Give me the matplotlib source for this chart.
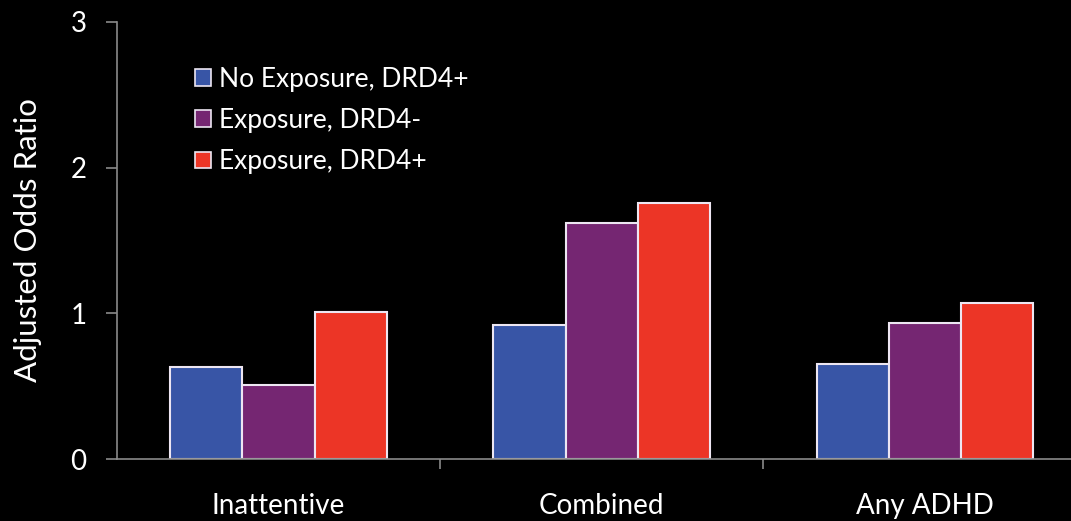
import matplotlib.pyplot as plt
import numpy as np
from matplotlib.patches import Patch

categories = ["Inattentive", "Combined", "Any ADHD"]
series_names = ["No Exposure, DRD4+", "Exposure, DRD4-", "Exposure, DRD4+"]
no_exp_pos = [0.63, 0.92, 0.65]
exp_neg = [0.51, 1.62, 0.93]
exp_pos = [1.01, 1.76, 1.07]

BLUE = "#3855A6"
PURPLE = "#752672"
RED = "#EC3526"
EDGE = "#EDE6F2"
AXIS = "#8A8A8A"
FONT = ["Lato", "DejaVu Sans"]

plt.rcParams['font.family'] = FONT

fig = plt.figure(figsize=(10.71, 5.21), dpi=100, facecolor="black")
ax = fig.add_axes([0.1092, 0.119, 0.8908, 0.839])
ax.set_facecolor("black")

x = np.arange(len(categories))
w = 0.223
series = [no_exp_pos, exp_neg, exp_pos]
colors = [BLUE, PURPLE, RED]
for k, (vals, c) in enumerate(zip(series, colors)):
    ax.bar(x + (k - 1) * w, vals, width=w, color=c, edgecolor=EDGE,
           linewidth=1.5, zorder=2)

ax.set_xlim(-0.5, 2.453)
ax.set_ylim(0, 3)

for s in ["top", "right"]:
    ax.spines[s].set_visible(False)
for s in ["left", "bottom"]:
    ax.spines[s].set_color(AXIS)
    ax.spines[s].set_linewidth(1.2)

ax.set_yticks([0, 1, 2, 3])
ax.set_yticklabels(["0", "1", "2", "3"])
ax.tick_params(axis="y", colors=AXIS, length=8, width=1.2, labelcolor="white",
               labelsize=20, pad=14)

# category labels centred, separator ticks between groups
ax.set_xticks([0.5, 1.5])
ax.set_xticklabels([])
ax.tick_params(axis="x", colors=AXIS, length=7, width=1.2, direction="out")
for xi, name in zip(x, categories):
    ax.text(xi, -0.32, name, ha="center", va="center", color="white",
            fontsize=20, transform=ax.transData, clip_on=False)

ax.set_ylabel("Adjusted Odds Ratio", color="white", fontsize=22.5, labelpad=20)

handles = [Patch(facecolor=c, edgecolor=EDGE, linewidth=1.2) for c in colors]
leg = ax.legend(handles, series_names, loc="upper left",
                bbox_to_anchor=(0.071, 0.922), frameon=False, fontsize=19,
                labelcolor="white", handlelength=0.6, handleheight=0.6,
                handletextpad=0.3, labelspacing=0.62, borderaxespad=0)

fig.savefig("out.png", dpi=100, facecolor="black")
